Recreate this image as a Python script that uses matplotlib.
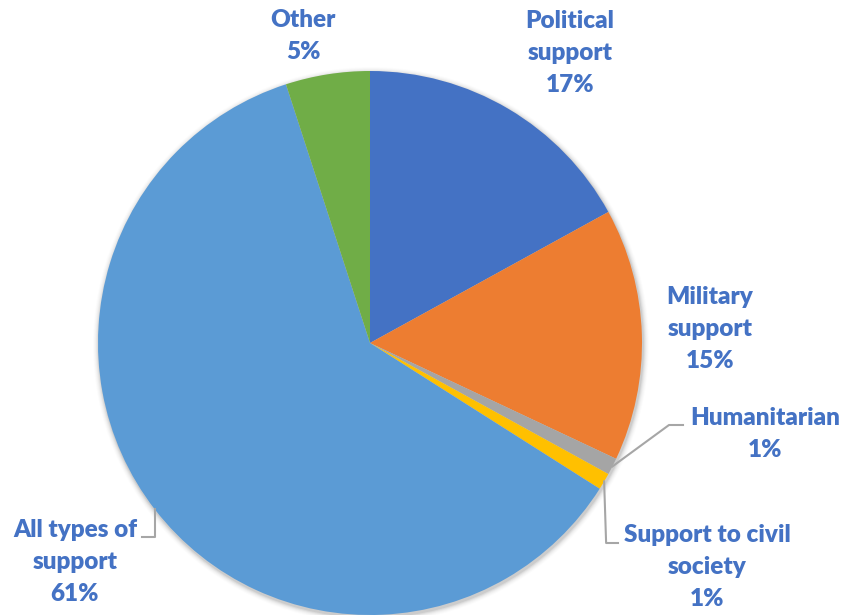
import numpy as np
import matplotlib
matplotlib.use("Agg")
import matplotlib.pyplot as plt

# Share of support by type
categories = ["Political\nsupport", "Military\nsupport", "Humanitarian",
              "Support to civil\nsociety", "All types of\nsupport", "Other"]
shares = [17, 15, 1, 1, 61, 5]
colors = ["#4472C4", "#ED7D31", "#A5A5A5", "#FFC000", "#5B9BD5", "#70AD47"]

W, H = 845, 615
fig = plt.figure(figsize=(W / 100, H / 100), dpi=100)
ax = fig.add_axes([0, 0, 1, 1])

cx, cy, r = 370, H - 343, 272

# soft shadow under the pie
for k, a in zip(range(6, 0, -1), [0.012, 0.018, 0.025, 0.035, 0.05, 0.07]):
    ax.add_patch(plt.Circle((cx + 1, cy - 2), r + k, color="black", alpha=a, lw=0, zorder=0))

wedges, _ = ax.pie(shares, colors=colors, startangle=90, counterclock=False,
                   center=(cx, cy), radius=r, wedgeprops=dict(linewidth=0, zorder=1))

ax.set_xlim(0, W)
ax.set_ylim(0, H)
ax.set_aspect("equal")
ax.axis("off")

txt_color = "#4472C4"
font = dict(family=["Lato", "DejaVu Sans"], weight="heavy", fontsize=17.5,
            color=txt_color, ha="center", va="center", linespacing=1.55)

# label centre positions (pixel coords from top-left)
label_pos = [(570, 53), (710, 329), (765, 434), (707, 567), (75, 562), (303, 36)]

for cat, val, (px, py) in zip(categories, shares, label_pos):
    ax.text(px, H - py, f"{cat}\n{val}%", **font)

def edge_point(w, frac=1.0):
    ang = np.deg2rad((w.theta1 + w.theta2) / 2)
    return cx + r * frac * np.cos(ang), cy + r * frac * np.sin(ang)

lc = "#A6A6A6"
# Humanitarian leader
x0, y0 = edge_point(wedges[2])
ax.plot([x0, 669, 683], [y0, H - 425, H - 425], color=lc, lw=1.5, zorder=3)
# Civil society leader
x0, y0 = edge_point(wedges[3])
ax.plot([x0, x0 + 2, 618], [y0, H - 543, H - 543], color=lc, lw=1.5, zorder=3)
# All types leader
ax.plot([155, 155, 142], [H - 509, H - 537, H - 537], color=lc, lw=1.5, zorder=3)

fig.savefig("out.png", dpi=100, facecolor="white")
